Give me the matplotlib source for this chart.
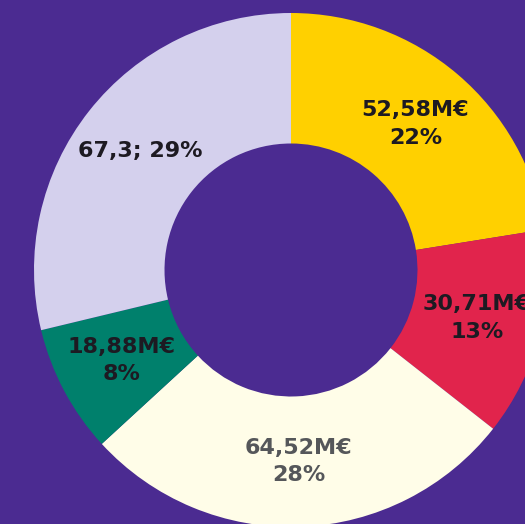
import matplotlib
matplotlib.use("Agg")
import matplotlib.pyplot as plt

# slices, clockwise from the top
values = [52.58, 30.71, 64.52, 18.88, 67.3]
labels = ["52,58M€\n22%", "30,71M€\n13%", "64,52M€\n28%", "18,88M€\n8%", "67,3; 29%"]
colors = ["#FFD000", "#E1244C", "#FFFDE8", "#00806C", "#D4D0ED"]
textColors = ["#1d1a22", "#1d1a22", "#55575a", "#1d1a22", "#1d1a22"]

bg = "#4B2B91"

fig = plt.figure(figsize=(5.25, 5.24), dpi=100, facecolor=bg)
ax = fig.add_axes([0, 0, 1, 1])
ax.set_facecolor(bg)

outer = 257
inner = 126.5
it = iter(labels)
wedges, texts, autotexts = ax.pie(values, colors=colors, startangle=90, counterclock=False,
                                  center=(291, 254), radius=outer,
                                  wedgeprops=dict(width=outer - inner, linewidth=0),
                                  autopct=lambda p: next(it),
                                  pctdistance=(outer + inner) / 2 / outer)

for t, c in zip(autotexts, textColors):
    t.set_color(c)
    t.set_fontsize(16)
    t.set_fontweight("bold")
    t.set_linespacing(1.45)

ax.set_xlim(0, 525)
ax.set_ylim(0, 524)
ax.set_aspect("equal")
ax.axis("off")

fig.savefig("out.png", dpi=100, facecolor=bg)
